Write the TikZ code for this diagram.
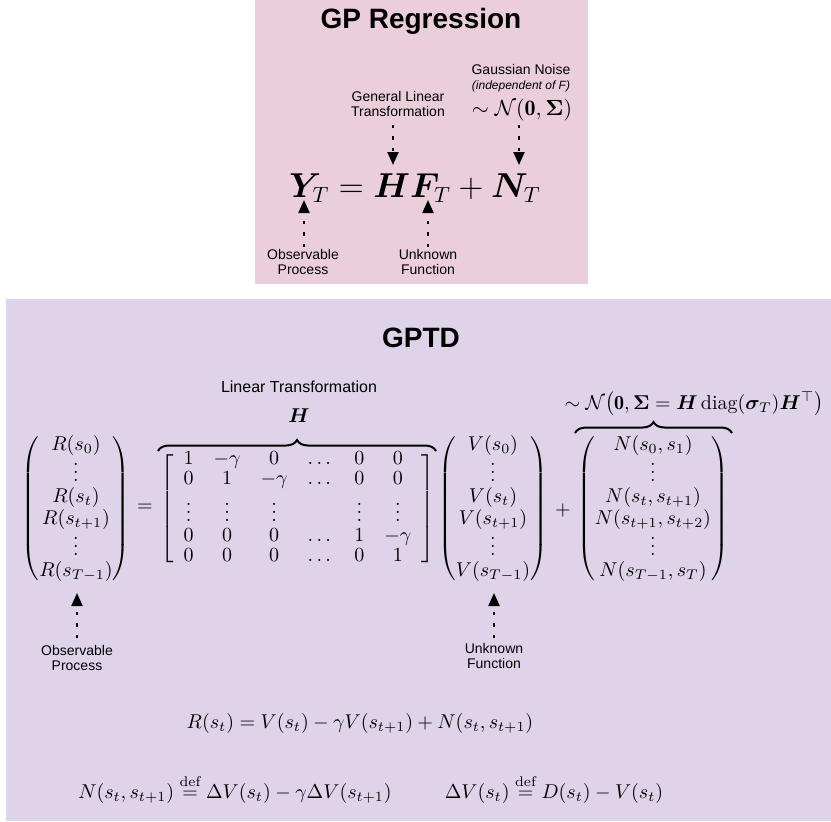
\documentclass[tikz,border=0pt]{standalone}
\usepackage{amsmath,amssymb,bm}
\usepackage{fontspec}
\newfontfamily\lab{Liberation Sans}
\usetikzlibrary{arrows.meta,decorations.pathreplacing}
\definecolor{pinkbg}{RGB}{235,206,220}
\definecolor{lilacbg}{RGB}{223,211,234}
\renewcommand{\arraystretch}{0.85}
\begin{document}
\begin{tikzpicture}[x=0.5pt,y=-0.5pt,
  lbl/.style={font=\lab\fontsize{7}{7.5}\selectfont, align=center, inner sep=0pt},
  darr/.style={line width=1.1pt, dash pattern=on 1.7pt off 4pt, -{Triangle[length=6.5pt,width=5.5pt]}},
  ttl/.style={font=\lab\bfseries\fontsize{14}{16}\selectfont, inner sep=0pt, anchor=base},
  mth/.style={font=\fontsize{10}{12}\selectfont, inner sep=0pt},
  brc/.style={decorate, decoration={brace, amplitude=5.5pt}, line width=1pt}]
\useasboundingbox (0,0) rectangle (831,821);
\fill[pinkbg] (255,0) rectangle (588,284);
\fill[lilacbg] (6,299) rectangle (831,821);
% ---------- GP Regression ----------
\node[ttl] (t1) at (421,28) {GP Regression};
\node[lbl, anchor=north] (glt) at (398,91) {General Linear\\Transformation};
\node[lbl, anchor=north] (gn) at (521,64) {Gaussian Noise\\{\fontsize{6}{7}\selectfont\itshape (independent of F)}};
\node[font=\fontsize{11}{13}\selectfont, inner sep=0pt, anchor=base] (gd) at (522,115) {$\sim\mathcal{N}(\mathbf{0},\bm{\Sigma})$};
\node[font=\fontsize{16.3}{19}\selectfont, inner sep=0pt, anchor=base] (eq) at (415,197) {$\bm{Y}_T = \bm{H}\bm{F}_T + \bm{N}_T$};
\node[lbl, anchor=north] (op1) at (303,249) {Observable\\Process};
\node[lbl, anchor=north] (uf1) at (428,249) {Unknown\\Function};
\coordinate (hTail) at (393,125); \coordinate (hTip) at (393,165);
\coordinate (nTail) at (519,125); \coordinate (nTip) at (519,165);
\coordinate (yTail) at (304,247); \coordinate (yTip) at (304,200);
\coordinate (fTail) at (428,247); \coordinate (fTip) at (428,200);
\draw[darr] (hTail) -- (hTip);
\draw[darr] (nTail) -- (nTip);
\draw[darr] (yTail) -- (yTip);
\draw[darr] (fTail) -- (fTip);
% ---------- GPTD ----------
\node[ttl] (t2) at (421,347) {GPTD};
\node[font=\lab\fontsize{8}{9.6}\selectfont, inner sep=0pt, anchor=base] (lt) at (299,392) {Linear Transformation};
\node[mth, anchor=base] (hl) at (299,422) {$\bm{H}$};
\node[mth] (lv) at (76,509) {$\begin{pmatrix} R(s_0)\\[-2.5pt] \vdots\\ R(s_t)\\ R(s_{t+1})\\[-2.5pt] \vdots\\ R(s_{T-1})\end{pmatrix}$};
\node[mth] (eqs) at (145,508) {$=$};
\node[mth] (hm) at (297.5,509) {$\left[\begin{array}{cccccc} 1 & -\gamma & 0 & \dots & 0 & 0\\ 0 & 1 & -\gamma & \dots & 0 & 0\\ \vdots & \vdots & \vdots & & \vdots & \vdots\\ 0 & 0 & 0 & \dots & 1 & -\gamma\\ 0 & 0 & 0 & \dots & 0 & 1\end{array}\right]$};
\node[mth] (vv) at (493,509) {$\begin{pmatrix} V(s_0)\\[-2.5pt] \vdots\\ V(s_t)\\ V(s_{t+1})\\[-2.5pt] \vdots\\ V(s_{T-1})\end{pmatrix}$};
\node[mth] (pl) at (563,510) {$+$};
\node[mth] (nv) at (653,509) {$\begin{pmatrix} N(s_0,s_1)\\[-2.5pt] \vdots\\ N(s_t,s_{t+1})\\ N(s_{t+1},s_{t+2})\\[-2.5pt] \vdots\\ N(s_{T-1},s_T)\end{pmatrix}$};
\coordinate (hbL) at (158,451); \coordinate (hbR) at (436,451);
\draw[brc] (hbL) -- (hbR);
\node[mth, anchor=base] (nd) at (694,409) {$\sim\mathcal{N}\bigl(\mathbf{0},\bm{\Sigma}=\bm{H}\operatorname{diag}(\bm{\sigma}_T)\bm{H}^{\top}\bigr)$};
\coordinate (nbL) at (575,433); \coordinate (nbR) at (732,433);
\draw[brc] (nbL) -- (nbR);
\coordinate (rTail) at (77,638); \coordinate (rTip) at (77,593);
\coordinate (vTail) at (494,638); \coordinate (vTip) at (494,593);
\draw[darr] (rTail) -- (rTip);
\draw[darr] (vTail) -- (vTip);
\node[lbl, anchor=north] (op2) at (77,645) {Observable\\Process};
\node[lbl, anchor=north] (uf2) at (494,643) {Unknown\\Function};
% ---------- bottom equations ----------
\node[mth, anchor=base] (e1) at (360,728) {$R(s_t) = V(s_t) - \gamma V(s_{t+1}) + N(s_t,s_{t+1})$};
\node[mth, anchor=base] (e2) at (235,798) {$N(s_t,s_{t+1}) \overset{\mathrm{def}}{=} \Delta V(s_t) - \gamma\Delta V(s_{t+1})$};
\node[mth, anchor=base] (e3) at (554,798) {$\Delta V(s_t) \overset{\mathrm{def}}{=} D(s_t) - V(s_t)$};
\end{tikzpicture}
\end{document}
